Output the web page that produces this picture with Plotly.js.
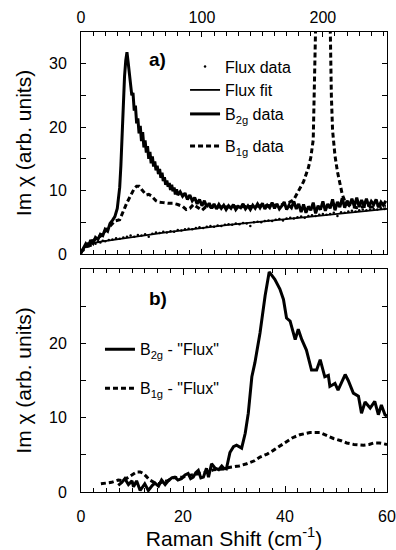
<!DOCTYPE html>
<html>
<head>
<meta charset="utf-8">
<script src="https://cdn.plot.ly/plotly-3.0.1.min.js"></script>
<style>html,body{margin:0;padding:0;background:#fff;}#chart{width:396px;height:550px;}</style>
</head>
<body>
<div id="chart"></div>
<script>
// ---- Panel a) data (top axis, cm^-1, 0-253) ----
const fluxDataX = [2,4,6,8,10,12,14,16,18,20,23,26,29,32,35,38,41,44,47,50,53,56,59,62,65,68,71,74,77,80,83,86,89,92,95,98,101,104,107,110,113,116,119,122,125,128,131,134,137,140,143,146,149,152,155,158,161,164,167,170,173,176,179,182,185,188,191,194,197,200,203,206,209,212,215,218,221,224,227,230,233,236,239,242,245,248,251];
const fluxDataY = [0.6,1.1,1.4,1.3,1.7,1.6,1.9,1.8,2.1,2.0,2.2,2.3,2.5,2.4,2.6,2.7,2.9,2.7,3.0,2.9,3.1,2.7,3.2,3.4,3.3,3.5,3.4,3.6,3.5,3.8,3.7,3.9,4.0,3.9,4.1,4.2,4.1,4.3,4.4,4.3,4.5,4.4,4.6,4.7,4.6,4.8,4.7,4.9,4.8,4.4,5.0,5.1,5.0,5.2,5.3,5.2,5.4,5.5,5.3,5.6,5.7,5.6,5.8,5.9,5.7,6.0,6.1,6.0,6.2,6.3,6.2,6.3,6.5,6.0,6.6,6.5,6.7,6.8,6.7,6.9,7.0,6.9,7.0,7.1,7.0,7.2,7.1];

const fluxFitX = [0,1,2,4,6,10,15,20,30,40,50,60,70,80,90,100,110,120,130,140,150,160,170,180,190,200,210,220,230,240,253];
const fluxFitY = [0,0.6,0.9,1.2,1.4,1.7,1.9,2.05,2.35,2.65,2.9,3.15,3.4,3.65,3.9,4.1,4.35,4.55,4.75,4.95,5.15,5.35,5.55,5.75,5.95,6.15,6.35,6.55,6.75,6.9,7.1];

const b2gX = [0,2,4,6,8,10,12,14,16,18,20,22,24,26,28,30,32,33,34,35,36,37,38,39,40,41,42,43,44,45,46,47,48,49,50,51,52,53,54,55,56,57,58,59,60,61,62,63,64,65,66,67,68,69,70,71,72,73,74,75,76,77,78,79,80,82,84,86,88,90,92,94,96,98,100,102,104,106,108,110,112,114,116,118,120,122,124,126,128,130,132,134,136,138,140,142,144,146,148,150,152,154,156,158,160,162,164,166,168,170,172,174,176,178,180,182,184,186,188,190,192,194,196,198,200,202,204,206,208,210,212,214,216,218,220,222,224,226,228,230,232,234,236,238,240,242,244,246,248,250,252];
const b2gY = [0.2,0.9,1.6,1.1,2.2,1.7,2.6,2.3,3.1,2.9,3.9,3.6,4.8,5.3,5.9,7.2,10.5,14,19,24,28,30.5,31.8,30.2,28.4,27.2,25.0,25.4,22.6,23.4,20.6,21.4,19.0,20.2,17.8,19.2,16.8,17.9,16.0,17.0,15.0,16.1,14.3,15.4,13.8,14.6,13.2,13.9,12.6,13.4,12.0,12.8,11.5,12.1,10.9,11.6,10.6,11.2,10.1,10.9,9.9,10.5,9.4,10.2,9.3,9.8,9.1,9.6,8.6,9.3,8.4,8.9,7.9,8.6,7.6,8.4,7.4,8.0,7.2,7.9,7.1,7.8,7.2,7.7,7.0,7.6,7.2,7.8,7.0,7.5,7.3,7.9,7.1,7.6,7.0,7.7,7.2,7.9,7.3,8.0,7.1,7.7,7.3,8.1,7.2,7.9,7.1,7.6,8.2,7.0,7.7,7.3,8.3,7.1,7.9,6.6,7.8,6.5,7.5,6.9,8.1,6.4,7.6,7.0,8.3,6.8,7.9,7.2,8.6,6.9,8.2,7.4,8.8,7.3,8.4,7.6,8.7,7.5,8.9,7.4,8.5,7.6,8.7,7.5,8.3,7.8,8.6,7.4,8.2,7.7,8.4,7.6];

const b1gX = [0,4,8,12,16,20,24,28,32,34,36,38,40,42,44,46,48,50,52,54,56,58,60,62,64,66,68,72,76,80,84,87,90,93,96,100,103,108,114,120,126,132,138,144,150,156,162,168,172,176,180,184,188,190,192,194,196,198,200,202,204,206,207,208,210,212,214,216,218,222,228,234,240,246,252];
const b1gY = [0.2,1.4,1.9,2.4,2.8,3.6,4.4,5.2,5.4,6.2,7.2,8.1,8.9,9.7,10.3,10.7,10.7,10.2,9.7,9.3,9.4,9.2,8.8,8.4,8.2,8.2,8.1,8.0,8.0,7.8,7.5,7.0,7.2,7.8,7.4,6.9,7.4,7.5,7.4,7.4,7.5,7.5,7.4,7.5,7.6,7.6,7.7,7.8,8.1,8.6,9.9,11.4,13.6,15.2,18.0,27,48,75,90,85,60,35,25,19.5,15.5,13.0,11.0,9.4,8.4,7.6,7.3,7.5,7.4,7.6,7.5];

// ---- Panel b) data (cm^-1, 0-60) ----
const b2gDiffX = [7.3,8,8.6,9.3,10,10.3,10.9,11.6,12.5,13.2,14,14.5,15.2,15.8,16.5,17.1,17.8,18.4,19,19.7,20.4,21,21.5,22,22.5,23,23.5,24,24.6,25,25.6,26.3,27,27.6,28,28.5,29.2,29.9,30.5,31.2,31.5,32.2,32.8,33.5,34.1,35.1,36.1,36.9,38,39,39.7,40.3,41,42,42.6,43.3,44.2,45.2,46.2,46.9,47.8,48.5,48.8,49.8,50.4,51.8,52.4,53.4,54.4,55,55.7,56.7,57.6,58.3,58.9,59.6,60];
const b2gDiffY = [0.9,1.3,1.8,1.0,1.5,0.7,1.5,0.2,1.1,0.2,0.9,1.2,0.8,1.6,1.0,1.5,1.9,2.0,1.6,1.8,2.3,2.5,1.8,2.0,2.6,2.9,1.9,2.0,3.2,2.0,3.8,3.2,3.0,3.5,3.2,3.1,5.3,6.1,6.3,6.0,5.9,7.9,10.6,15.5,17.4,21.4,26.4,29.6,28.6,27.3,25.9,23.4,23.0,20.5,21.9,20.5,19.1,16.4,16.4,17.8,15.5,15.7,14.2,14.6,13.7,15.8,15.0,13.3,12.9,10.6,12.1,11.3,12.2,10.4,11.7,10.4,10.2];

const b1gDiffX = [3.9,5,6,7.3,8.3,9.3,10.2,10.9,11.6,12.2,12.8,13.5,14.3,15.2,16,17,18,19,20,21,22,23,24,25,26,27,28,29,29.9,31,32.5,34,35.1,36.5,37.7,39,40.3,41.5,42.9,44,44.9,46.9,48,49.5,51,52.1,53.5,55.4,56.5,57.4,58.5,60];
const b1gDiffY = [1.1,1.2,1.3,1.6,1.5,2.0,2.4,2.7,2.7,2.5,2.1,1.6,1.3,1.1,1.4,1.5,1.9,1.9,2.0,2.2,2.3,2.4,2.5,2.7,3.0,3.0,3.1,3.3,3.4,3.5,3.8,4.2,4.7,5.1,5.6,6.2,6.8,7.3,7.7,7.9,8.0,8.0,7.7,7.2,6.9,6.6,6.4,6.3,6.4,6.6,6.6,6.4];

const topTickVals = [0,100,200];
const yTopTickVals = [0,10,20,30];
const xBotTickVals = [0,20,40,60];
const yBotTickVals = [0,10,20];

const FONT = 'Liberation Sans, Arial, Helvetica, sans-serif';
const DASH = '5px,3px';

const traces = [
  {x: fluxDataX, y: fluxDataY, xaxis:'x', yaxis:'y', mode:'markers', name:'Flux data',
   marker:{color:'black', size:2.5}, legend:'legend'},
  {x: fluxFitX, y: fluxFitY, xaxis:'x', yaxis:'y', mode:'lines', name:'Flux fit',
   line:{color:'black', width:1.8}, legend:'legend2'},
  {x: b2gX, y: b2gY, xaxis:'x', yaxis:'y', mode:'lines', name:'B<sub>2g</sub> data',
   line:{color:'black', width:3}, legend:'legend3'},
  {x: b1gX, y: b1gY, xaxis:'x', yaxis:'y', mode:'lines', name:'B<sub>1g</sub> data',
   line:{color:'black', width:3, dash:DASH}, legend:'legend4'},
  {x: b2gDiffX, y: b2gDiffY, xaxis:'x2', yaxis:'y2', mode:'lines', name:'B<sub>2g</sub> - "Flux"',
   line:{color:'black', width:3}, legend:'legend5'},
  {x: b1gDiffX, y: b1gDiffY, xaxis:'x2', yaxis:'y2', mode:'lines', name:'B<sub>1g</sub> - "Flux"',
   line:{color:'black', width:3, dash:DASH}, legend:'legend6'}
];

function axisBase() {
  return {showline:true, linecolor:'black', linewidth:1, mirror:'ticks', ticks:'inside',
    tickcolor:'black', tickwidth:1, showgrid:false, zeroline:false, fixedrange:true,
    tickfont:{family:FONT, size:16, color:'black'}};
}
function leg(x, y) {
  return {x:x, y:y, xanchor:'left', yanchor:'middle', bgcolor:'rgba(0,0,0,0)', borderwidth:0,
    font:{family:FONT, size:16, color:'black'}};
}

const layout = {
  width:396, height:550,
  margin:{l:81, r:9, t:32, b:58},
  paper_bgcolor:'white', plot_bgcolor:'white',
  font:{family:FONT, color:'black', size:16},
  showlegend:true,
  xaxis: Object.assign(axisBase(), {domain:[0,1], anchor:'y', side:'top', range:[0,253],
    tickmode:'array', tickvals:topTickVals, ticklen:5, ticklabelstandoff:2,
    minor:{tick0:0, dtick:10, ticks:'inside', ticklen:4, tickcolor:'black'}}),
  yaxis: Object.assign(axisBase(), {domain:[0.5174,1], anchor:'x', range:[0,35],
    tickmode:'array', tickvals:yTopTickVals, ticklen:5, ticklabelstandoff:10,
    minor:{tick0:0, dtick:5, ticks:'inside', ticklen:5, tickcolor:'black'},
    title:{text:'Im χ (arb. units)', font:{family:FONT, size:21, color:'black'}, standoff:11}}),
  xaxis2: Object.assign(axisBase(), {domain:[0,1], anchor:'y2', range:[0,60],
    tickmode:'array', tickvals:xBotTickVals, ticklen:6, ticklabelstandoff:10,
    minor:{tick0:0, dtick:2.5, ticks:'inside', ticklen:4, tickcolor:'black'},
    title:{text:'Raman Shift (cm<sup>-1</sup>)', font:{family:FONT, size:21, color:'black'}, standoff:8}}),
  yaxis2: Object.assign(axisBase(), {domain:[0,0.4848], anchor:'x2', range:[0,30],
    tickmode:'array', tickvals:yBotTickVals, ticklen:5, ticklabelstandoff:10,
    minor:{tick0:0, dtick:5, ticks:'inside', ticklen:5, tickcolor:'black'},
    title:{text:'Im χ (arb. units)', font:{family:FONT, size:21, color:'black'}, standoff:11}}),
  legend: leg(0.34, 0.9246),
  legend2: leg(0.34, 0.8739),
  legend3: leg(0.34, 0.8217),
  legend4: leg(0.34, 0.752),
  legend5: leg(0.062, 0.3102),
  legend6: leg(0.062, 0.2254),
  annotations:[
    {text:'<b>a)</b>', xref:'paper', yref:'paper', x:0.2516, y:0.9413, xanchor:'center', yanchor:'middle',
     showarrow:false, font:{family:FONT, size:19, color:'black'}},
    {text:'<b>b)</b>', xref:'paper', yref:'paper', x:0.2516, y:0.4217, xanchor:'center', yanchor:'middle',
     showarrow:false, font:{family:FONT, size:19, color:'black'}}
  ]
};

Plotly.newPlot('chart', traces, layout, {displayModeBar:false, staticPlot:true});
</script>
</body>
</html>
